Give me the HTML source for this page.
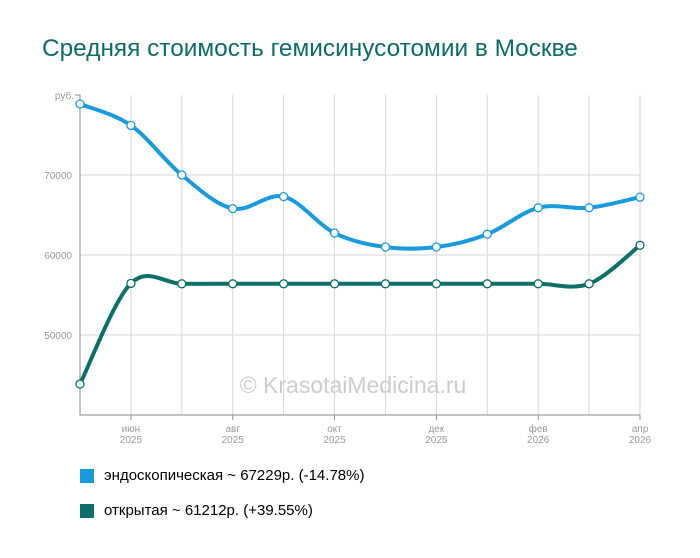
<!DOCTYPE html>
<html><head><meta charset="utf-8"><style>
body{margin:0;background:#fff;width:700px;height:558px;overflow:hidden;font-family:"Liberation Sans",sans-serif}
#t{position:absolute;left:42px;top:35px;font-size:24.4px;color:#0e6b63}
.lg{position:absolute;left:80px;font-size:15px;color:#000;display:flex;align-items:center}
.lg span.sw{width:14px;height:14px;margin-right:10px;display:inline-block}
</style></head><body>
<div id="t">Средняя стоимость гемисинусотомии в Москве</div>
<svg id="c" width="700" height="558" style="position:absolute;left:0;top:0"></svg>
<div class="lg" style="top:467px"><span class="sw" style="background:#1a9ade"></span>эндоскопическая ~ 67229р. (-14.78%)</div>
<div class="lg" style="top:502px"><span class="sw" style="background:#0d7068"></span>открытая ~ 61212р. (+39.55%)</div>
<script>
const months=["","июн","","авг","","окт","","дек","","фев","","апр"];
const years=["","2025","","2025","","2025","","2025","","2026","","2026"];
const endo=[78875,76200,70000,65800,67300,62750,61000,61000,62600,65900,65900,67229];
const open=[43865,56450,56400,56400,56400,56400,56400,56400,56400,56400,56400,61212];
const yTicks=[50000,60000,70000];
const NS="http://www.w3.org/2000/svg",svg=document.getElementById('c');
const X=i=>80+i*560/11, Y=v=>415-(v-40000)*320/40000;
function el(t,a,p){const e=document.createElementNS(NS,t);for(const k in a)e.setAttribute(k,a[k]);(p||svg).appendChild(e);return e;}
yTicks.forEach(v=>{const l=el('line',{x1:80,x2:640,y1:Y(v),y2:Y(v),stroke:'#d6d6d6'});

const t=el('text',{x:72,y:Y(v)+4,'text-anchor':'end','font-size':10,fill:'#999'});t.textContent=v;
});
months.forEach((m,i)=>{if(i==0)return;const l=el('line',{x1:X(i),x2:X(i),y1:95,y2:415,stroke:'#d6d6d6'});

if(m){el('line',{x1:X(i),x2:X(i),y1:415,y2:420,stroke:'#888'});
const t=el('text',{x:X(i),y:432,'text-anchor':'middle','font-size':10,fill:'#999'});t.textContent=m;

const t2=el('text',{x:X(i),y:443,'text-anchor':'middle','font-size':10,fill:'#999'});t2.textContent=years[i];
}});
const ax=el('path',{d:'M75 95H80V415H640',fill:'none',stroke:'#888'});

const yu=el('text',{x:74,y:99,'text-anchor':'end','font-size':10,fill:'#999'});yu.textContent='руб.';

const wm=el('text',{x:353,y:393,'text-anchor':'middle','font-size':23,fill:'#ccc'});wm.textContent='© KrasotaiMedicina.ru';

function path(d){const p=d.map((v,i)=>[X(i),Y(v)]);let s=`M${p[0][0]},${p[0][1]}`;
for(let i=0;i<p.length-1;i++){const p0=p[i-1]||p[i],p1=p[i],p2=p[i+1],p3=p[i+2]||p2;
s+=`C${p1[0]+(p2[0]-p0[0])/6},${p1[1]+(p2[1]-p0[1])/6} ${p2[0]-(p3[0]-p1[0])/6},${p2[1]-(p3[1]-p1[1])/6} ${p2[0]},${p2[1]}`;}return s;}
[[endo,'#1a9ade','endo'],[open,'#0d7068','open']].forEach(([d,c,n])=>{
const l=el('path',{d:path(d),fill:'none',stroke:c,'stroke-width':4});

d.forEach((v,i)=>{const pt=el('circle',{cx:X(i),cy:Y(v),r:4,fill:'#fff',stroke:c,'stroke-width':1.3});
});});
</script></body></html>
